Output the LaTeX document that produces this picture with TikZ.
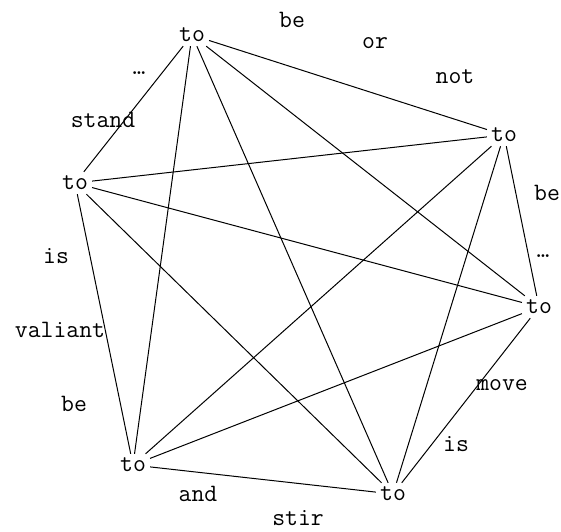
\documentclass[tikz,border=0pt]{standalone}
\usepackage{fontspec}
\usetikzlibrary{positioning}
\tikzset{
  word/.style={font=\ttfamily\fontsize{25}{28}\selectfont, inner sep=1pt},
  hub/.style={word, inner sep=4pt},
  link/.style={black, line width=1pt}
}

\begin{document}
\begin{tikzpicture}[x=1pt, y=-1pt]
  \useasboundingbox (0,0) rectangle (561,531);

  %% the six hubs
  \node[hub] (top) at (192,35) {to};
  \node[hub] (rtop) at (504,135) {to};
  \node[hub] (left) at (75,183) {to};
  \node[hub] (rbot) at (539,307) {to};
  \node[hub] (lbot) at (133,465) {to};
  \node[hub] (bot) at (393,494) {to};

  %% every hub linked to every other
  \draw[link] (top) -- (rtop);
  \draw[link] (top) -- (left);
  \draw[link] (top) -- (rbot);
  \draw[link] (top) -- (lbot);
  \draw[link] (top) -- (bot);
  \draw[link] (left) -- (rtop);
  \draw[link] (left) -- (rbot);
  \draw[link] (left) -- (lbot);
  \draw[link] (left) -- (bot);
  \draw[link] (rtop) -- (rbot);
  \draw[link] (rtop) -- (lbot);
  \draw[link] (rtop) -- (bot);
  \draw[link] (rbot) -- (lbot);
  \draw[link] (rbot) -- (bot);
  \draw[link] (lbot) -- (bot);

  %% words round the ring
  \node[word] (w1) at (292,20) {be};
  \node[word] (w2) at (375,43) {or};
  \node[word] (w3) at (455,77) {not};
  \node[word] (w4) at (547,193) {be};
  \node[word] (w5) at (543,256) {…};
  \node[word] (w6) at (502,385) {move};
  \node[word] (w7) at (456,444) {is};
  \node[word] (w8) at (298,518) {stir};
  \node[word] (w9) at (198,494) {and};
  \node[word] (w10) at (74,404) {be};
  \node[word] (w11) at (60,330) {valiant};
  \node[word] (w12) at (56,256) {is};
  \node[word] (w13) at (103,120) {stand};
  \node[word] (w14) at (139,73) {…};
\end{tikzpicture}
\end{document}
